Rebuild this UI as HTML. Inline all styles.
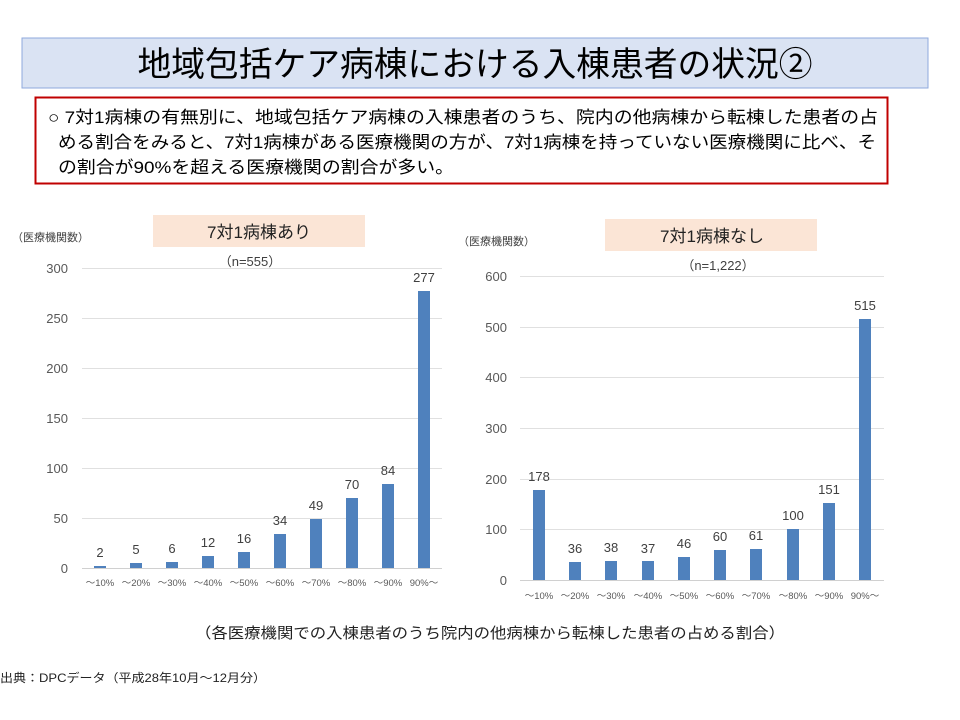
<!DOCTYPE html>
<html><head><meta charset="utf-8"><style>
body{margin:0;background:#fff;}
svg{display:block;font-family:"Liberation Sans","Noto Sans CJK JP",sans-serif;}
</style></head><body>
<svg width="960" height="720" viewBox="0 0 960 720" xmlns="http://www.w3.org/2000/svg">
<rect x="22" y="38" width="906" height="50" fill="#dae3f3" stroke="#8faadc" stroke-width="1"/>
<text x="475" y="76" font-size="34" text-anchor="middle" textLength="675" lengthAdjust="spacingAndGlyphs" fill="#000">地域包括ケア病棟における入棟患者の状況②</text>
<rect x="35.5" y="97.5" width="852" height="86" fill="#fff" stroke="#c00000" stroke-width="2"/>
<g font-size="17" fill="#000">
<text x="48" y="123" textLength="830" lengthAdjust="spacingAndGlyphs">○ 7対1病棟の有無別に、地域包括ケア病棟の入棟患者のうち、院内の他病棟から転棟した患者の占</text>
<text x="58" y="148" textLength="818" lengthAdjust="spacingAndGlyphs">める割合をみると、7対1病棟がある医療機関の方が、7対1病棟を持っていない医療機関に比べ、そ</text>
<text x="58" y="173" textLength="396" lengthAdjust="spacingAndGlyphs">の割合が90%を超える医療機関の割合が多い。</text>
</g>

<!-- Left chart -->
<text x="12" y="241" font-size="11" fill="#404040">（医療機関数）</text>
<rect x="153" y="215" width="212" height="32" fill="#fbe5d6"/>
<text x="259" y="238" font-size="17" text-anchor="middle" fill="#222">7対1病棟あり</text>
<text x="250" y="266" font-size="13" text-anchor="middle" fill="#404040">（n=555）</text>
<g stroke="#e0e0e0" stroke-width="1">
<line x1="82" x2="442" y1="268.5" y2="268.5"/><line x1="82" x2="442" y1="318.5" y2="318.5"/>
<line x1="82" x2="442" y1="368.5" y2="368.5"/><line x1="82" x2="442" y1="418.5" y2="418.5"/>
<line x1="82" x2="442" y1="468.5" y2="468.5"/><line x1="82" x2="442" y1="518.5" y2="518.5"/>
<line x1="82" x2="442" y1="568.5" y2="568.5" stroke="#d0d0d0"/>
</g>
<g font-size="13" fill="#595959" text-anchor="end">
<text x="68" y="273">300</text><text x="68" y="323">250</text><text x="68" y="373">200</text>
<text x="68" y="423">150</text><text x="68" y="473">100</text><text x="68" y="523">50</text><text x="68" y="573">0</text>
</g>
<g fill="#4f81bd">
<rect x="94" y="566" width="12" height="2"/><rect x="130" y="563" width="12" height="5"/>
<rect x="166" y="562" width="12" height="6"/><rect x="202" y="556" width="12" height="12"/>
<rect x="238" y="552" width="12" height="16"/><rect x="274" y="534" width="12" height="34"/>
<rect x="310" y="519" width="12" height="49"/><rect x="346" y="498" width="12" height="70"/>
<rect x="382" y="484" width="12" height="84"/><rect x="418" y="291" width="12" height="277"/>
</g>
<g font-size="13" fill="#404040" text-anchor="middle">
<text x="100" y="557">2</text><text x="136" y="554">5</text><text x="172" y="553">6</text>
<text x="208" y="547">12</text><text x="244" y="543">16</text><text x="280" y="525">34</text>
<text x="316" y="510">49</text><text x="352" y="489">70</text><text x="388" y="475">84</text>
<text x="424" y="282">277</text>
</g>
<g font-size="9.5" fill="#595959" text-anchor="middle">
<text x="100" y="586">～10%</text><text x="136" y="586">～20%</text><text x="172" y="586">～30%</text>
<text x="208" y="586">～40%</text><text x="244" y="586">～50%</text><text x="280" y="586">～60%</text>
<text x="316" y="586">～70%</text><text x="352" y="586">～80%</text><text x="388" y="586">～90%</text>
<text x="424" y="586">90%～</text>
</g>

<!-- Right chart -->
<text x="458" y="245" font-size="11" fill="#404040">（医療機関数）</text>
<rect x="605" y="219" width="212" height="32" fill="#fbe5d6"/>
<text x="712" y="242" font-size="17" text-anchor="middle" fill="#222">7対1病棟なし</text>
<text x="718" y="270" font-size="13" text-anchor="middle" fill="#404040">（n=1,222）</text>
<g stroke="#e0e0e0" stroke-width="1">
<line x1="520" x2="884" y1="276.5" y2="276.5"/><line x1="520" x2="884" y1="327.5" y2="327.5"/>
<line x1="520" x2="884" y1="377.5" y2="377.5"/><line x1="520" x2="884" y1="428.5" y2="428.5"/>
<line x1="520" x2="884" y1="479.5" y2="479.5"/><line x1="520" x2="884" y1="529.5" y2="529.5"/>
<line x1="520" x2="884" y1="580.5" y2="580.5" stroke="#d0d0d0"/>
</g>
<g font-size="13" fill="#595959" text-anchor="end">
<text x="507" y="281">600</text><text x="507" y="332">500</text><text x="507" y="382">400</text>
<text x="507" y="433">300</text><text x="507" y="484">200</text><text x="507" y="534">100</text><text x="507" y="585">0</text>
</g>
<g fill="#4f81bd">
<rect x="533" y="490" width="12" height="90"/><rect x="569" y="562" width="12" height="18"/>
<rect x="605" y="561" width="12" height="19"/><rect x="642" y="561" width="12" height="19"/>
<rect x="678" y="557" width="12" height="23"/><rect x="714" y="550" width="12" height="30"/>
<rect x="750" y="549" width="12" height="31"/><rect x="787" y="529" width="12" height="51"/>
<rect x="823" y="503" width="12" height="77"/><rect x="859" y="319" width="12" height="261"/>
</g>
<g font-size="13" fill="#404040" text-anchor="middle">
<text x="539" y="481">178</text><text x="575" y="553">36</text><text x="611" y="552">38</text>
<text x="648" y="553">37</text><text x="684" y="548">46</text><text x="720" y="541">60</text>
<text x="756" y="540">61</text><text x="793" y="520">100</text><text x="829" y="494">151</text>
<text x="865" y="310">515</text>
</g>
<g font-size="9.5" fill="#595959" text-anchor="middle">
<text x="539" y="599">～10%</text><text x="575" y="599">～20%</text><text x="611" y="599">～30%</text>
<text x="648" y="599">～40%</text><text x="684" y="599">～50%</text><text x="720" y="599">～60%</text>
<text x="756" y="599">～70%</text><text x="793" y="599">～80%</text><text x="829" y="599">～90%</text>
<text x="865" y="599">90%～</text>
</g>

<text x="490" y="638" font-size="15" text-anchor="middle" fill="#222" textLength="590" lengthAdjust="spacingAndGlyphs">（各医療機関での入棟患者のうち院内の他病棟から転棟した患者の占める割合）</text>
<text x="0" y="682" font-size="12" fill="#222" textLength="266" lengthAdjust="spacingAndGlyphs">出典：DPCデータ（平成28年10月～12月分）</text>
</svg>
</body></html>
